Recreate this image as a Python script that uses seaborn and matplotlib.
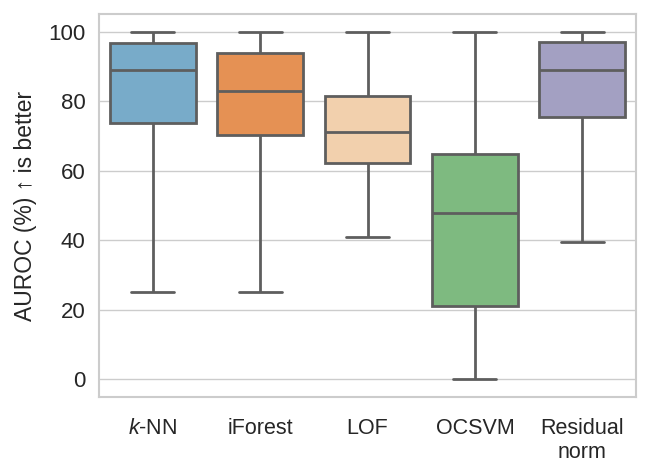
import matplotlib
matplotlib.use("Agg")
import matplotlib.pyplot as plt
import seaborn as sns
import pandas as pd

# five-number summaries: min, q1, median, q3, max
methods = ["$k$-NN", "iForest", "LOF", "OCSVM", "Residual\nnorm"]
knn = [25, 73.8, 88.9, 96.6, 100]
iforest = [25, 70.4, 83.0, 93.8, 100]
lof = [40.9, 62.1, 71.0, 81.6, 100]
ocsvm = [0, 21.1, 47.9, 64.8, 100]
residual = [39.5, 75.5, 88.9, 97.0, 100]

rows = []
for name, vals in zip(methods, [knn, iforest, lof, ocsvm, residual]):
    for v in vals:
        rows.append({"method": name, "auroc": v})
df = pd.DataFrame(rows)

tab = sns.color_palette("tab20c", 20)
palette = [tab[1], tab[5], tab[7], tab[9], tab[13]]

sns.set_theme(style="whitegrid")
plt.rcParams["font.family"] = ["Liberation Sans", "DejaVu Sans"]
plt.rcParams["mathtext.fontset"] = "custom"
plt.rcParams["mathtext.it"] = "Liberation Sans:italic"
plt.rcParams["mathtext.rm"] = "Liberation Sans"

fig, ax = plt.subplots(figsize=(6.64, 4.73), dpi=100)
sns.boxplot(data=df, x="method", y="auroc", hue="method", palette=palette,
            whis=(0, 100), linewidth=2, legend=False, ax=ax)
ax.set_ylim(-5, 105)
ax.set_xlabel("")
ax.set_ylabel("AUROC (%) ↑ is better", fontsize=16.5, labelpad=8)
ax.tick_params(axis="y", labelsize=16)
ax.tick_params(axis="x", labelsize=15.5, pad=9)
for s in ax.spines.values():
    s.set_color("#cccccc")
    s.set_linewidth(1.5)
plt.subplots_adjust(left=0.149, right=0.958, top=0.970, bottom=0.161)
plt.savefig("out.png", dpi=100)
